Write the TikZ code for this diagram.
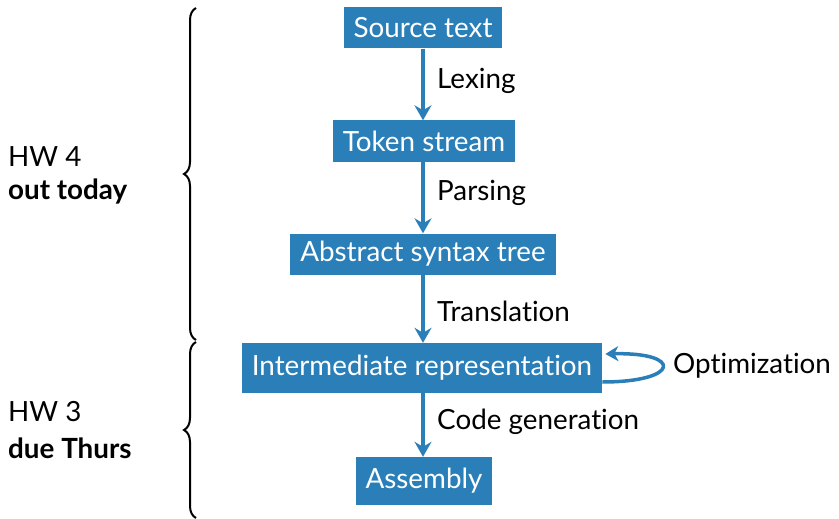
\documentclass[tikz,border=0pt]{standalone}
\usepackage{fontspec}
\setmainfont[Ligatures={NoCommon,NoContextual}]{Lato}
\usetikzlibrary{arrows.meta,decorations.pathreplacing}
\definecolor{boxblue}{HTML}{2A7FB8}
\tikzset{
  stagebox/.style={fill=boxblue, text=white, font=\fontsize{27.8}{32}\selectfont, inner xsep=10pt, minimum height=41pt, inner ysep=0pt},
  flow/.style={draw=boxblue, line width=4.5pt, -{Stealth[length=15pt,width=17pt,inset=5pt]}},
  lbl/.style={font=\fontsize{27.8}{32}\selectfont, anchor=west, inner sep=0pt},
  side/.style={font=\fontsize{27.8}{32}\selectfont, anchor=west, inner sep=0pt, align=left},
  bracebar/.style={draw, line width=2pt, decorate, decoration={brace, amplitude=12pt}}
}
\begin{document}
\begin{tikzpicture}[x=1pt,y=1pt]
\useasboundingbox (0,0) rectangle (839,-519);
\node[stagebox] (src) at (423,-28) {Source text};
\node[stagebox] (tok) at (424,-141) {Token stream};
\node[stagebox] (ast) at (423,-254) {Abstract syntax tree};
\node[stagebox, minimum height=50pt] (ir) at (422,-368) {Intermediate representation};
\node[stagebox, minimum height=48pt] (asm) at (424,-481) {Assembly};
\draw[flow] (src.south -| 423,0) -- (tok.north -| 423,0);
\draw[flow] (tok.south -| 423,0) -- (ast.north -| 423,0);
\draw[flow] (ast.south -| 423,0) -- (ir.north -| 423,0);
\draw[flow] (ir.south -| 423,0) -- (asm.north -| 423,0);
\coordinate (lo) at ([yshift=-14pt]ir.east);
\coordinate (hi) at ([yshift=14pt]ir.east);
\draw[flow, line width=3.5pt, -{Stealth[length=13pt,width=15pt,inset=4pt]}] (lo) .. controls +(78,0) and +(78,2) .. ([xshift=3pt]hi);
\node[lbl] (l1) at (437,-81) {Lexing};
\node[lbl] (l2) at (437,-193) {Parsing};
\node[lbl] (l3) at (437,-311) {Translation};
\node[lbl] (l4) at (437,-422) {Code generation};
\node[lbl] (l5) at (673,-366) {Optimization};
\node[side] (hw4) at (8,-157) {HW 4};
\node[side] (hw4b) at (8,-191) {\bfseries out today};
\node[side] (hw3) at (8,-412) {HW 3};
\node[side] (hw3b) at (8,-448) {\bfseries due Thurs};
\coordinate (b1) at (196,-340);
\coordinate (b2) at (196,-8);
\coordinate (b3) at (196,-518);
\coordinate (b4) at (196,-342);
\draw[bracebar] (b1) -- (b2);
\draw[bracebar] (b3) -- (b4);
\end{tikzpicture}
\end{document}
